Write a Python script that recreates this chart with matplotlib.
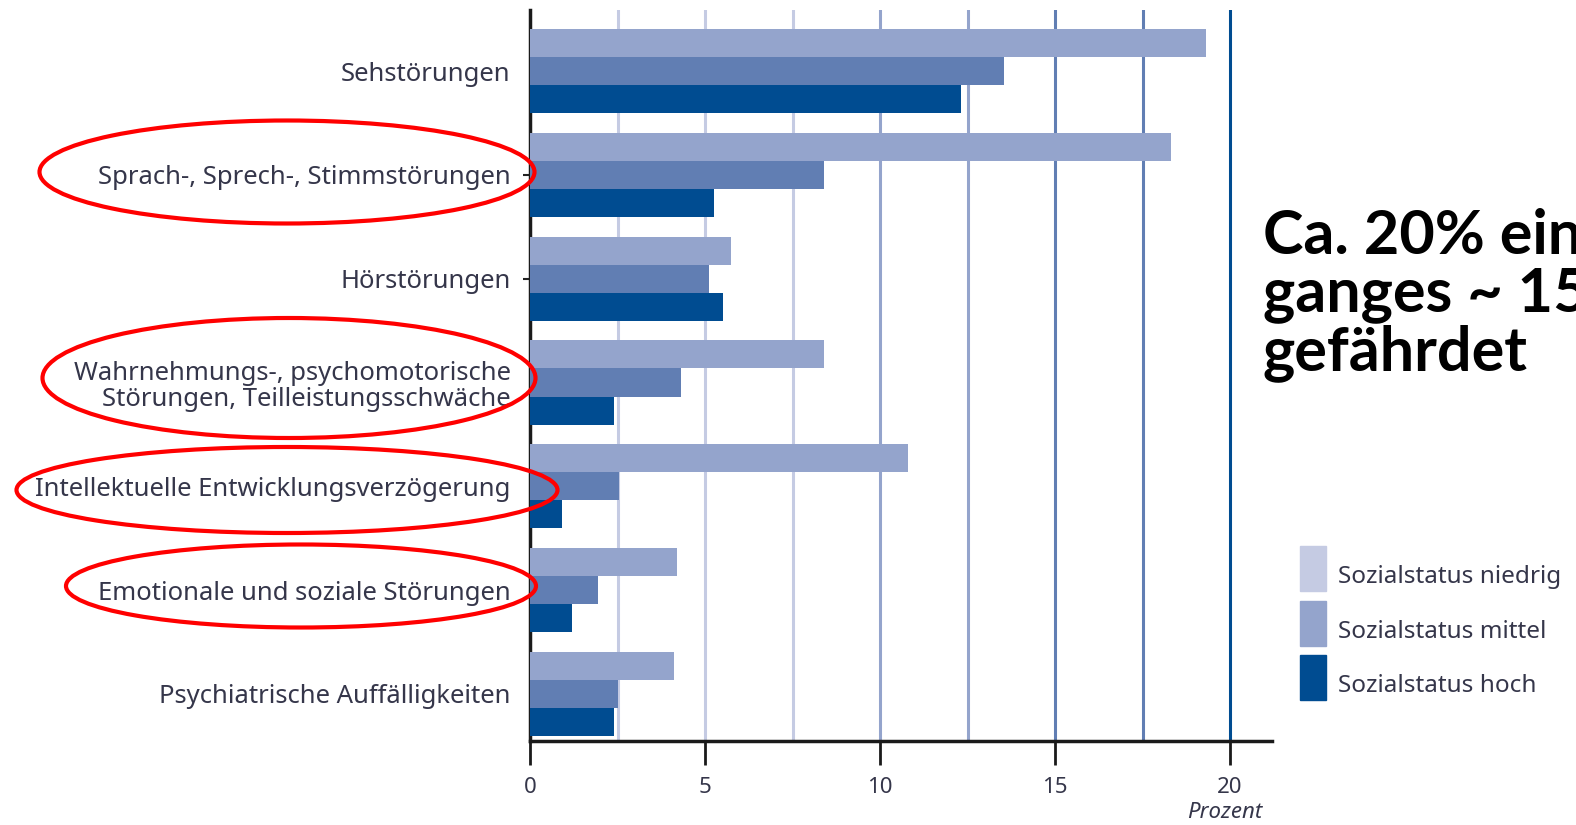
import matplotlib.pyplot as plt
from matplotlib.patches import Ellipse, Rectangle
import numpy as np

# data (Prozent)
categories = ["Sehstörungen",
              "Sprach-, Sprech-, Stimmstörungen",
              "Hörstörungen",
              "Wahrnehmungs-, psychomotorische\nStörungen, Teilleistungsschwäche",
              "Intellektuelle Entwicklungsverzögerung",
              "Emotionale und soziale Störungen",
              "Psychiatrische Auffälligkeiten"]
niedrig = [19.3, 18.3, 5.75, 8.4, 10.8, 4.2, 4.1]
mittel = [13.55, 8.4, 5.1, 4.3, 2.55, 1.95, 2.5]
hoch = [12.3, 5.25, 5.5, 2.4, 0.9, 1.2, 2.4]
series_names = ["Sozialstatus niedrig", "Sozialstatus mittel", "Sozialstatus hoch"]
xticks = [0, 5, 10, 15, 20]
grid_pos = [2.5, 5, 7.5, 10, 12.5, 15, 17.5, 20]

c_pale = '#c5cbe3'
c_light = '#94a4cc'
c_mid = '#617eb3'
c_dark = '#004c91'
grid_cols = [c_pale, c_pale, c_pale, c_light, c_light, c_mid, c_mid, c_dark]
legend_cols = [c_pale, c_light, c_dark]  # as printed in the source legend
txt_col = '#35364a'

W, H = 1576, 825
fig = plt.figure(figsize=(W / 100, H / 100), dpi=100)
ax = fig.add_axes([530 / W, 1 - 741 / H, (1272 - 530) / W, (741 - 10) / H])

y = np.arange(len(categories))
h = 0.27
ax.barh(y - h, niedrig, height=h, color=c_light, zorder=3)
ax.barh(y, mittel, height=h, color=c_mid, zorder=3)
ax.barh(y + h, hoch, height=h, color=c_dark, zorder=3)

for g, c in zip(grid_pos, grid_cols):
    ax.axvline(g, color=c, lw=2.2, zorder=1)

ax.set_xlim(0, 21.2)
ax.set_ylim(6.455, -0.59)

ax.set_yticks(y, categories, fontsize=18.5, color=txt_col, family='Noto Sans',
              linespacing=1.1)
ax.tick_params(axis='y', length=5, width=1.5, pad=9, color='#222222')
for i, t in enumerate(ax.yaxis.get_major_ticks()):
    t.tick1line.set_visible(i in (1, 2))

ax.set_xticks(xticks, [str(v) for v in xticks], fontsize=16, color=txt_col,
              family='Noto Sans')
ax.tick_params(axis='x', length=17, width=2, pad=9, color='#1a1a1a')

for s in ['top', 'right']:
    ax.spines[s].set_visible(False)
ax.spines['left'].set_linewidth(2.5)
ax.spines['left'].set_color('#1a1a1a')
ax.spines['bottom'].set_linewidth(2.5)
ax.spines['bottom'].set_color('#1a1a1a')

fig.text(1262 / W, 1 - 813 / H, "Prozent", ha='right', va='center',
         fontsize=16, style='italic', color=txt_col, family='Noto Sans')

# red ellipses around highlighted labels (figure pixels)
for cx, cy, ew, eh in [(287, 172, 495, 103), (289, 378, 493, 120),
                       (287, 490, 541, 86), (301, 586, 470, 83)]:
    fig.add_artist(Ellipse((cx / W, 1 - cy / H), ew / W, eh / H,
                           transform=fig.transFigure, fill=False,
                           edgecolor='#ff0000', lw=3))

# legend drawn by hand: tall swatches, text sitting low
for i, (name, c) in enumerate(zip(series_names, legend_cols)):
    top = 546 + i * 54.5
    fig.add_artist(Rectangle((1300 / W, 1 - (top + 45) / H), 26 / W, 45 / H,
                             transform=fig.transFigure, color=c))
    fig.text(1338 / W, 1 - (top + 31) / H, name, ha='left', va='center',
             fontsize=17.5, color=txt_col, family='Noto Sans')

fig.text(1263 / W, 1 - 208 / H,
         "Ca. 20% eines Jahr-\nganges ~ 150.000\ngefährdet",
         ha='left', va='top', fontsize=44, fontweight='bold',
         family='Lato', color='black', linespacing=1.03)

fig.savefig('out.png', dpi=100)
